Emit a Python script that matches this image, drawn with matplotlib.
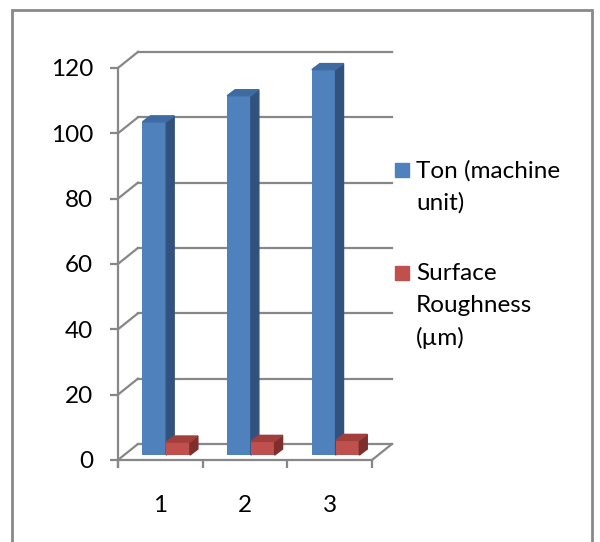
import matplotlib
matplotlib.use("Agg")
import matplotlib.pyplot as plt
from matplotlib.patches import Polygon, Rectangle

plt.rcParams['font.family'] = ['Lato', 'DejaVu Sans']

categories = [1, 2, 3]
ton = [102, 110, 118]
roughness = [4.0, 4.2, 4.5]
series_labels = ["Ton (machine\nunit)", "Surface\nRoughness\n(\u00b5m)"]
yticks = [0, 20, 40, 60, 80, 100, 120]

front_colors = ["#4F81BD", "#C0504D"]
side_colors = ["#30527C", "#7D2F2D"]
top_colors = ["#3D6BA2", "#A03F3C"]
grid_col = "#878787"

fig = plt.figure(figsize=(6, 5.42), dpi=100)
ax = fig.add_axes([101 / 600, 72.2 / 542, 296.4 / 600, 424.7 / 542])
ax.set_xlim(0.3, 3.8)
ax.set_ylim(-3, 127)

# pseudo 3d: wall depth and bar depth (in data units)
wdx, wdy = 0.236, 4.9
bdx, bdy = 0.094, 1.84
sx, sy = 0.07, 1.5
x0, x1 = 0.5, 3.5

# back wall gridlines and diagonals
for v in yticks:
    ax.plot([x0 + wdx, x1 + wdx], [v + wdy, v + wdy], color=grid_col, lw=1.6, zorder=1)
    ax.plot([x0, x0 + wdx], [v, v + wdy], color=grid_col, lw=1.6, zorder=1)
ax.plot([x1, x1 + wdx], [0, wdy], color=grid_col, lw=1.6, zorder=1)

width = 0.28
z = 3
for i, c in enumerate(categories):
    for s, (vals, off) in enumerate([(ton, -0.14), (roughness, 0.14)]):
        h = vals[i]
        xc = c + off + sx
        ax.bar(xc, h, width, bottom=sy, color=front_colors[s], zorder=z,
               label=series_labels[s] if i == 0 else None)
        xl, xr = xc - width / 2, xc + width / 2
        top = sy + h
        ax.add_patch(Polygon([(xr, sy), (xr + bdx, sy + bdy), (xr + bdx, top + bdy), (xr, top)],
                             closed=True, color=side_colors[s], zorder=z))
        ax.add_patch(Polygon([(xl, top), (xl + bdx, top + bdy), (xr + bdx, top + bdy), (xr, top)],
                             closed=True, color=top_colors[s], zorder=z))
        z += 1

for side in ['top', 'right']:
    ax.spines[side].set_visible(False)
ax.spines['left'].set_position(('data', x0))
ax.spines['left'].set_bounds(-2, 120)
ax.spines['bottom'].set_position(('data', 0))
ax.spines['bottom'].set_bounds(x0, x1)
for side in ['left', 'bottom']:
    ax.spines[side].set_color(grid_col)
    ax.spines[side].set_linewidth(1.6)

ax.set_yticks(yticks)
ax.tick_params(axis='y', length=6, width=1.6, color=grid_col, pad=12, labelsize=17.5,
               labelcolor='black')
ax.set_xticks(categories)
ax.set_xticks([0.5, 1.5, 2.5, 3.5], minor=True)
ax.tick_params(axis='x', which='major', length=0, pad=25, labelsize=17.5, labelcolor='black')
ax.tick_params(axis='x', which='minor', length=6, width=1.6, color=grid_col)
ax.patch.set_visible(False)

# legend, square next to first line of each entry
leg_y = [170, 273]
for s in range(2):
    fig.patches.append(Rectangle((395 / 600, 1 - (leg_y[s] + 7) / 542), 14 / 600, 14 / 542,
                                 transform=fig.transFigure, color=front_colors[s]))
    fig.text(416 / 600, 1 - (leg_y[s] - 10) / 542, series_labels[s], fontsize=17.5,
             va='top', ha='left', linespacing=1.62, color='black')

# outer frame
fig.patches.append(Rectangle((12 / 600, -0.05), 580 / 600, 1 - 10 / 542 + 0.05,
                             transform=fig.transFigure, fill=False, ec="#898989", lw=2))

fig.savefig("out.png", dpi=100)
